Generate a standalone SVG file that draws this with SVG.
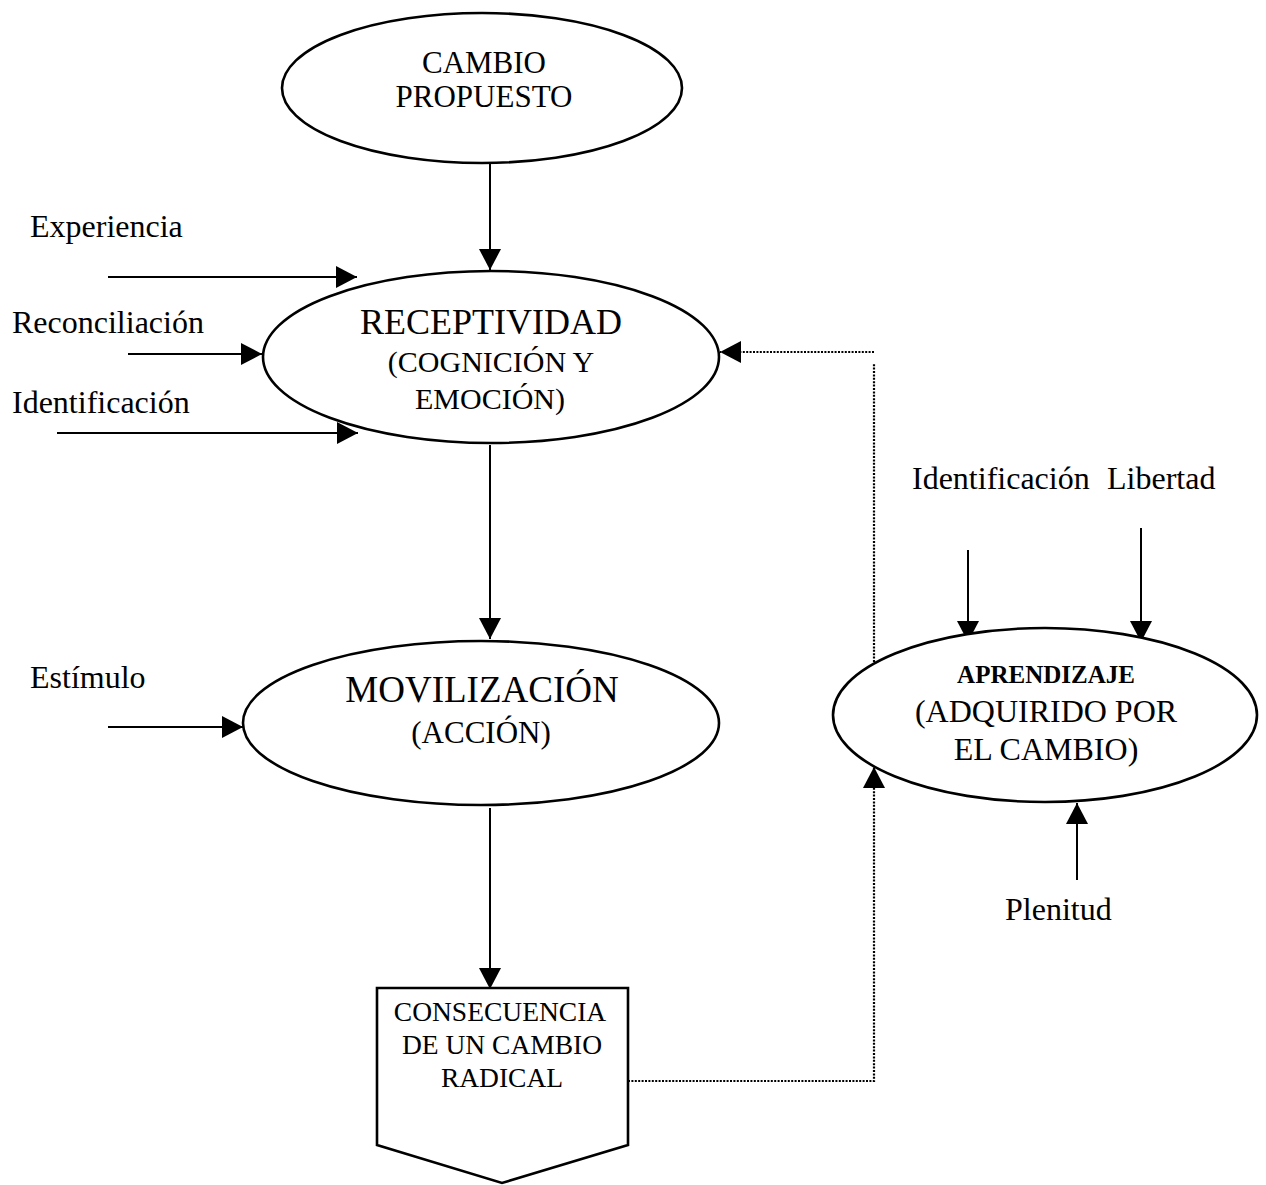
<svg xmlns="http://www.w3.org/2000/svg" width="1266" height="1185" viewBox="0 0 1266 1185">
  <style>
    .node { fill: #fff; stroke: #000; stroke-width: 2.6; }
    .txt { font-family: "Liberation Serif", "Times New Roman", serif; fill: #000; text-anchor: middle; }
    .lbl { font-family: "Liberation Serif", "Times New Roman", serif; fill: #000; font-size: 32px; }
    .line { stroke: #000; stroke-width: 2; fill: none; }
    .dot { stroke: #000; stroke-width: 2.2; fill: none; stroke-dasharray: 2 1.4; }
  </style>
  <defs>
    <marker id="arrow" markerUnits="userSpaceOnUse" markerWidth="22" markerHeight="22" refX="21" refY="11" orient="auto">
      <path d="M0,0 L21,11 L0,22 Z" fill="#000"/>
    </marker>
  </defs>

  <rect width="1266" height="1185" fill="#fff"/>

  <!-- connectors -->
  <g id="connectors">
    <line class="line" x1="490" y1="163" x2="490" y2="270" marker-end="url(#arrow)"/>
    <line class="line" x1="108" y1="277" x2="357" y2="277" marker-end="url(#arrow)"/>
    <line class="line" x1="128" y1="354" x2="262" y2="354" marker-end="url(#arrow)"/>
    <line class="line" x1="57" y1="433" x2="358" y2="433" marker-end="url(#arrow)"/>
    <line class="line" x1="490" y1="445" x2="490" y2="639" marker-end="url(#arrow)"/>
    <line class="line" x1="108" y1="727" x2="243" y2="727" marker-end="url(#arrow)"/>
    <line class="line" x1="490" y1="808" x2="490" y2="989" marker-end="url(#arrow)"/>
    <line class="line" x1="968" y1="550" x2="968" y2="642" marker-end="url(#arrow)"/>
    <line class="line" x1="1141" y1="528" x2="1141" y2="642" marker-end="url(#arrow)"/>
    <line class="line" x1="1077" y1="880" x2="1077" y2="803" marker-end="url(#arrow)"/>
    <!-- feedback loop -->
    <polyline class="dot" points="628,1081 874,1081 874,767" marker-end="url(#arrow)"/>
    <line class="dot" x1="874" y1="662" x2="874" y2="364"/>
    <line class="dot" x1="874" y1="352" x2="720" y2="352" marker-end="url(#arrow)"/>
  </g>

  <g id="cambio-propuesto">
    <ellipse class="node" cx="482" cy="88" rx="200" ry="75"/>
    <text class="txt" x="484" y="73" font-size="31">CAMBIO</text>
    <text class="txt" x="484" y="107" font-size="31">PROPUESTO</text>
  </g>

  <g id="receptividad">
    <ellipse class="node" cx="491" cy="357" rx="228" ry="86"/>
    <text class="txt" x="491" y="334" font-size="36">RECEPTIVIDAD</text>
    <text class="txt" x="491" y="372" font-size="30">(COGNICIÓN Y</text>
    <text class="txt" x="490" y="409" font-size="30">EMOCIÓN)</text>
  </g>

  <g id="movilizacion">
    <ellipse class="node" cx="481" cy="723" rx="238" ry="82"/>
    <text class="txt" x="482" y="702" font-size="37">MOVILIZACIÓN</text>
    <text class="txt" x="481" y="743" font-size="31">(ACCIÓN)</text>
  </g>

  <g id="aprendizaje">
    <ellipse class="node" cx="1045" cy="715" rx="212" ry="87"/>
    <text class="txt" x="1046" y="683" font-size="25" font-weight="bold">APRENDIZAJE</text>
    <text class="txt" x="1046" y="722" font-size="32">(ADQUIRIDO POR</text>
    <text class="txt" x="1046" y="760" font-size="32">EL CAMBIO)</text>
  </g>

  <g id="consecuencia">
    <path class="node" d="M377,988 L628,988 L628,1145 L502,1183 L377,1145 Z"/>
    <text class="txt" x="500" y="1021" font-size="27.5">CONSECUENCIA</text>
    <text class="txt" x="502" y="1054" font-size="27.5">DE UN CAMBIO</text>
    <text class="txt" x="502" y="1087" font-size="27.5">RADICAL</text>
  </g>

  <g id="labels">
    <text class="lbl" x="30" y="237">Experiencia</text>
    <text class="lbl" x="12" y="333">Reconciliación</text>
    <text class="lbl" x="12" y="413">Identificación</text>
    <text class="lbl" x="30" y="688">Estímulo</text>
    <text class="lbl" x="912" y="489">Identificación</text>
    <text class="lbl" x="1107" y="489">Libertad</text>
    <text class="lbl" x="1005" y="920">Plenitud</text>
  </g>
</svg>
